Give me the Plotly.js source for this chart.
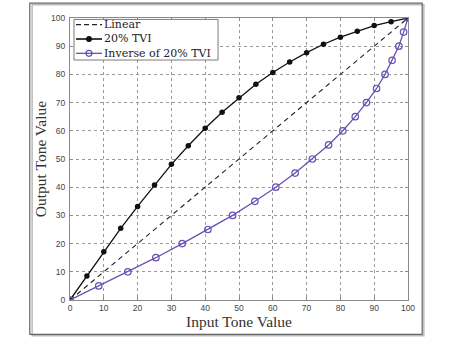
<!DOCTYPE html>
<html>
<head>
<meta charset="utf-8">
<script src="https://cdn.plot.ly/plotly-3.0.1.min.js"></script>
<style>
  html, body { margin: 0; padding: 0; background: #fff; }
  #chart { width: 451px; height: 339px; }
</style>
</head>
<body>
<div id="chart"></div>
<script>
// Tone reproduction curves: input tone value vs output tone value
const inputTone = [0, 5, 10, 15, 20, 25, 30, 35, 40, 45, 50, 55, 60, 65, 70, 75, 80, 85, 90, 95, 100];
const linearTone = [0, 100];
const tviTone = [0, 8.5, 17.1, 25.4, 33.2, 40.8, 48.1, 54.7, 60.9, 66.6, 71.7, 76.5, 80.7, 84.4, 87.7, 90.7, 93.2, 95.3, 97.3, 98.7, 100];
// The inverse curve swaps input and output of the 20% TVI curve
const inverseIn = tviTone;
const inverseOut = inputTone;
const tickVals = [0, 10, 20, 30, 40, 50, 60, 70, 80, 90, 100];
const seriesNames = ['Linear', '20% TVI', 'Inverse of 20% TVI'];

const serif = "'Liberation Serif', 'DejaVu Serif', serif";
const legendSerif = "'DejaVu Serif', serif";
const black = '#111';
const purple = '#6a50b4';

const traces = [
  {
    x: linearTone, y: linearTone, name: seriesNames[0], mode: 'lines',
    line: { color: '#222', width: 1.1, dash: '5px,4px' }
  },
  {
    x: inputTone, y: tviTone, name: seriesNames[1], mode: 'lines+markers',
    line: { color: black, width: 1.3 },
    marker: { symbol: 'circle', size: 5.5, color: black }
  },
  {
    x: inverseIn, y: inverseOut, name: seriesNames[2], mode: 'lines+markers',
    line: { color: purple, width: 1.3 },
    marker: { symbol: 'circle-open', size: 6.5, color: purple, line: { width: 1.2 } }
  }
];

const axisCommon = {
  range: [0, 100],
  tickvals: tickVals,
  ticktext: tickVals.map(String),
  showgrid: true,
  gridcolor: '#9a9a9a',
  griddash: 'dot',
  gridwidth: 1,
  zeroline: false,
  showline: true,
  linecolor: '#8a8a8a',
  linewidth: 1,
  mirror: 'ticks',
  ticks: 'inside',
  ticklen: 3,
  tickcolor: '#8a8a8a',
  tickfont: { family: "'Liberation Sans', Arial, sans-serif", size: 8.5, color: '#444' }
};

// Compact legend box (tight LaTeX-style row spacing)
const legFont = 11;
const legStep = legFont * 1.3 / 282;   // one text line, in plot-height units
const legMid = 0.9255;
const legRows = [legMid + legStep, legMid, legMid - legStep];
const legBox = { x0: 0.0118, x1: 0.438, y0: 0.851, y1: 0.995 };
const legSample = { x0: 0.0178, x1: 0.0947, mid: 0.0562, text: 0.0976 };

const legendShapes = [
  { type: 'rect', xref: 'paper', yref: 'paper', x0: legBox.x0, x1: legBox.x1, y0: legBox.y0, y1: legBox.y1,
    line: { color: '#7a7a7a', width: 1 }, fillcolor: '#fff', layer: 'above' },
  { type: 'line', xref: 'paper', yref: 'paper', x0: legSample.x0, x1: legSample.x1, y0: legRows[0], y1: legRows[0],
    line: { color: '#222', width: 1.3, dash: '5px,3px' }, layer: 'above' },
  { type: 'line', xref: 'paper', yref: 'paper', x0: legSample.x0, x1: legSample.x1, y0: legRows[1], y1: legRows[1],
    line: { color: black, width: 1.6 }, layer: 'above' },
  { type: 'circle', xref: 'paper', yref: 'paper', xsizemode: 'pixel', ysizemode: 'pixel',
    xanchor: legSample.mid, yanchor: legRows[1], x0: -2.6, x1: 2.6, y0: -2.6, y1: 2.6,
    line: { color: black, width: 1 }, fillcolor: black, layer: 'above' },
  { type: 'line', xref: 'paper', yref: 'paper', x0: legSample.x0, x1: legSample.x1, y0: legRows[2], y1: legRows[2],
    line: { color: purple, width: 1.3 }, layer: 'above' },
  { type: 'circle', xref: 'paper', yref: 'paper', xsizemode: 'pixel', ysizemode: 'pixel',
    xanchor: legSample.mid, yanchor: legRows[2], x0: -3, x1: 3, y0: -3, y1: 3,
    line: { color: purple, width: 1.2 }, layer: 'above' }
];

// All three legend labels as one left-aligned block of lines
const legendLabel = {
  xref: 'paper', yref: 'paper', x: legSample.text, y: legMid,
  xanchor: 'left', yanchor: 'middle', align: 'left', showarrow: false,
  text: seriesNames.join('<br>'),
  font: { family: legendSerif, size: legFont, color: '#222' }, borderpad: 0
};

const layout = {
  width: 451, height: 339,
  margin: { l: 70, r: 43, t: 18, b: 39 },
  paper_bgcolor: '#fff',
  plot_bgcolor: '#fff',
  showlegend: false,
  xaxis: Object.assign({}, axisCommon, {
    ticklabelstandoff: 0,
    title: { text: 'Input Tone Value', font: { family: serif, size: 15.5, color: '#333' }, standoff: 0 }
  }),
  yaxis: Object.assign({}, axisCommon, {
    ticklabelstandoff: 2,
    title: { text: 'Output Tone Value', font: { family: serif, size: 15.5, color: '#333' }, standoff: 0 }
  }),
  annotations: [legendLabel],
  shapes: [
    // figure frame with a soft drop shadow on the right and bottom
    { type: 'rect', xref: 'paper', yref: 'paper', x0: -0.112, x1: 1.047, y0: -0.127, y1: 1.047,
      line: { color: '#bbb', width: 1.5 }, layer: 'below' },
    { type: 'rect', xref: 'paper', yref: 'paper', x0: -0.119, x1: 1.042, y0: -0.122, y1: 1.053,
      line: { color: '#666', width: 1.2 }, layer: 'below' }
  ].concat(legendShapes)
};

Plotly.newPlot('chart', traces, layout, { staticPlot: true, displayModeBar: false });
</script>
</body>
</html>
